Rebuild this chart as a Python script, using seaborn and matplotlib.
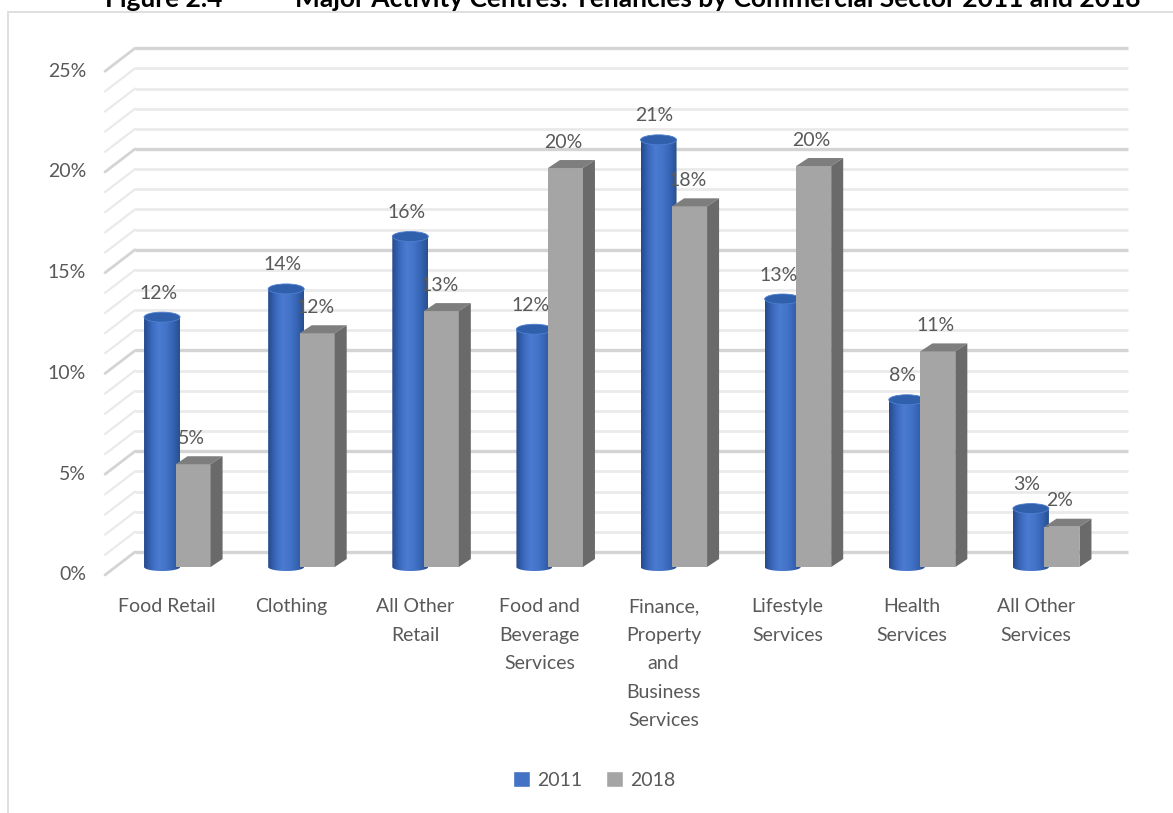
import numpy as np
import pandas as pd
import matplotlib
matplotlib.use("Agg")
import matplotlib.pyplot as plt
import seaborn as sns
from matplotlib.patches import Rectangle, Ellipse, Polygon, Patch, PathPatch
from matplotlib.path import Path
from matplotlib.colors import LinearSegmentedColormap
import matplotlib.transforms as mtransforms

# ---------------- data ----------------
categories = ["Food Retail", "Clothing", "All Other\nRetail", "Food and\nBeverage\nServices",
              "Finance,\nProperty\nand\nBusiness\nServices", "Lifestyle\nServices",
              "Health\nServices", "All Other\nServices"]
series = ["2011", "2018"]
values_2011 = [12.4, 13.8, 16.4, 11.8, 21.2, 13.3, 8.3, 2.9]
values_2018 = [5.1, 11.6, 12.7, 19.8, 17.9, 19.9, 10.7, 2.0]
y_ticks = [0, 5, 10, 15, 20, 25]
y_tick_labels = ["0%", "5%", "10%", "15%", "20%", "25%"]
title_number = "Figure 2.4"
title_text = "Major Activity Centres: Tenancies by Commercial Sector 2011 and 2018"

BLUE = "#4472C4"
GREY = "#A5A5A5"
TEXT = "#595959"
FS = 14

sns.set_theme(style="white")
plt.rcParams["font.family"] = ["Lato", "DejaVu Sans"]

W, H = 1173, 813
fig = plt.figure(figsize=(W / 100, H / 100), dpi=100, facecolor="white")

# bar plane axes (middle depth of the pseudo-3D box)
left_px, right_px = 115.5, 1108.5
zero_px, ppy_px = 567.0, 20.15
ymin, ymax = -1.0, 26.0
ax_bottom = zero_px - ymin * ppy_px
ax_top = zero_px - ymax * ppy_px
ax = fig.add_axes([left_px / W, 1 - ax_bottom / H, (right_px - left_px) / W, (ax_bottom - ax_top) / H])

df = pd.DataFrame({
    "category": categories * 2,
    "year": [series[0]] * len(categories) + [series[1]] * len(categories),
    "value": values_2011 + values_2018,
})
sns.barplot(data=df, x="category", y="value", hue="year", palette=[BLUE, GREY],
            width=0.5, saturation=1, errorbar=None, legend=False, ax=ax)
ax.set_xlim(-0.5, len(categories) - 0.5)
ax.set_ylim(ymin, ymax)
ax.axis("off")

# pixel scale of data units
ppx = (right_px - left_px) / len(categories)
ppy = ppy_px

back_tr = ax.transData + mtransforms.Affine2D().translate(19.5, 15)
front_tr = ax.transData + mtransforms.Affine2D().translate(-10.5, -8)

# ---------------- back wall / side wall gridlines ----------------
x_lo, x_hi = -0.5, len(categories) - 0.5
for v in range(0, 26):
    major = (v % 5 == 0)
    col = "#D4D4D4" if major else "#EAEAEA"
    lw = 2.4 if major else 2.0
    ax.plot([x_lo, x_hi], [v, v], transform=back_tr, color=col, lw=lw,
            clip_on=False, zorder=0.5, solid_capstyle="butt")
    ax.plot([x_lo - 30 / ppx, x_lo], [v - 23 / ppy, v], transform=back_tr,
            color=col, lw=lw - 0.4, clip_on=False, zorder=0.5, solid_capstyle="round")

# ---------------- cylinders (2011) ----------------
cyl_cmap = LinearSegmentedColormap.from_list(
    "cyl", ["#24498C", "#3A67BA", "#4A7BD2", "#4475C9", "#3764B5", "#27508F"])
cyl_w = 36 / ppx
ry_b = 4 / ppy
ry_t = 5 / ppy
for p, val in zip(ax.containers[0].patches, values_2011):
    xc = p.get_x() + p.get_width() / 2
    h = p.get_height()
    p.set_visible(False)
    x0, x1 = xc - cyl_w / 2, xc + cyl_w / 2
    t = np.linspace(np.pi, 2 * np.pi, 40)
    verts = [(x0, h), (x0, 0)] + [(xc + cyl_w / 2 * np.cos(a), ry_b * np.sin(a)) for a in t] + [(x1, h), (x0, h)]
    codes = [Path.MOVETO] + [Path.LINETO] * (len(verts) - 2) + [Path.CLOSEPOLY]
    body = PathPatch(Path(verts, codes), transform=ax.transData, facecolor="none", edgecolor="none")
    ax.add_patch(body)
    im = ax.imshow(np.linspace(0, 1, 256).reshape(1, -1), cmap=cyl_cmap, aspect="auto",
                   extent=[x0, x1, -ry_b, h], zorder=3, interpolation="bilinear")
    im.set_clip_path(body)
    ax.add_patch(Ellipse((xc, h), cyl_w, 2 * ry_t, facecolor="#3060AC", edgecolor="#4F7FD0",
                         lw=0.6, zorder=3.2))
    ax.annotate(f"{val:.0f}%", (xc, h), xytext=(-4, 24), textcoords="offset pixels",
                ha="center", va="center", fontsize=FS, color=TEXT, zorder=6)

# ---------------- boxes (2018) ----------------
box_w = 35 / ppx
ddx, ddy = 12 / ppx, 8 / ppy
for p, val in zip(ax.containers[1].patches, values_2018):
    xc = p.get_x() + p.get_width() / 2
    h = p.get_height()
    x0, x1 = xc - box_w / 2, xc + box_w / 2
    p.set_x(x0)
    p.set_width(box_w)
    p.set_facecolor(GREY)
    p.set_edgecolor("none")
    p.set_zorder(4)
    ax.add_patch(Polygon([(x0, h), (x1, h), (x1 + ddx, h + ddy), (x0 + ddx, h + ddy)],
                         closed=True, facecolor="#7E7E7E", edgecolor="none", zorder=4))
    ax.add_patch(Polygon([(x1, 0), (x1, h), (x1 + ddx, h + ddy), (x1 + ddx, ddy)],
                         closed=True, facecolor="#6A6A6A", edgecolor="none", zorder=4))
    ax.annotate(f"{val:.0f}%", (xc, h), xytext=(-2, 26), textcoords="offset pixels",
                ha="center", va="center", fontsize=FS, color=TEXT, zorder=6)

# ---------------- axis labels ----------------
ylab_tr = front_tr + mtransforms.Affine2D().translate(-19, 0)
for v, lab in zip(y_ticks, y_tick_labels):
    ax.text(x_lo, v, lab, transform=ylab_tr, ha="right", va="center",
            fontsize=FS, color=TEXT, clip_on=False)

xlab_tr = front_tr + mtransforms.Affine2D().translate(0, -23)
for i, lab in enumerate(categories):
    ax.text(i, 0, lab, transform=xlab_tr, ha="center", va="top", fontsize=FS,
            color=TEXT, linespacing=1.83, clip_on=False)

# ---------------- legend ----------------
handles = [Patch(facecolor=BLUE, label=series[0]), Patch(facecolor=GREY, label=series[1])]
fig.legend(handles=handles, loc="center", bbox_to_anchor=(594 / W, 1 - 780 / H), ncol=2,
           frameon=False, handlelength=0.9, handleheight=0.9, handletextpad=0.35,
           columnspacing=1.2, fontsize=FS, labelcolor=TEXT)

# ---------------- title (cut at top, as in the source) and frame ----------------
fig.text(105 / W, 1 - 7 / H, title_number, ha="left", va="baseline", fontsize=19,
         fontweight="bold", color="black")
fig.text(295 / W, 1 - 7 / H, title_text, ha="left", va="baseline", fontsize=19,
         fontweight="bold", color="black")
fig.add_artist(Rectangle((8 / W, -0.05), 1.2, 1.05 - 12 / H, transform=fig.transFigure,
                         fill=False, edgecolor="#D9D9D9", lw=1.2))

fig.savefig("out.png", dpi=100, facecolor="white")
